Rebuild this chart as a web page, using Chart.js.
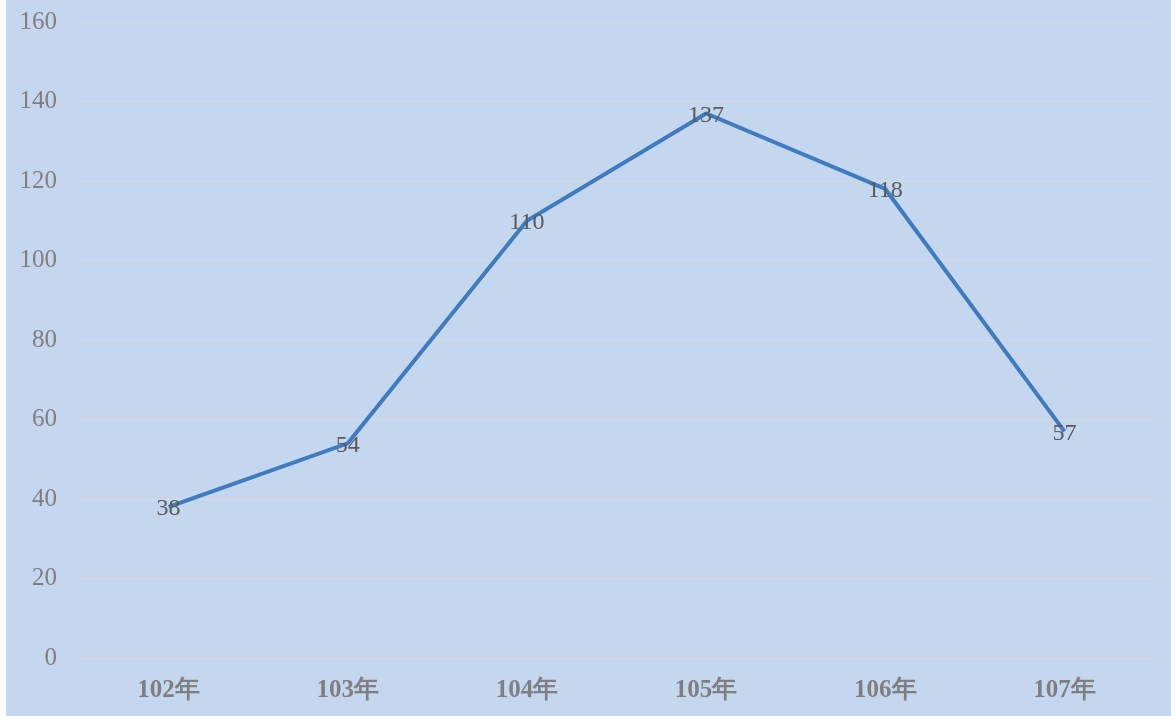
<!DOCTYPE html>
<html>
<head>
<meta charset="utf-8">
<script src="https://cdn.jsdelivr.net/npm/chart.js@4.4.1/dist/chart.umd.min.js"></script>
<style>
  html, body { margin: 0; padding: 0; background: #fff; }
  #wrap { position: absolute; left: 6px; top: 0; width: 1165px; height: 716px; background: #C5D7EF; }
</style>
</head>
<body>
<div id="wrap"><canvas id="myChart"></canvas></div>
<script>
const years = ["102年", "103年", "104年", "105年", "106年", "107年"];
const counts = [38, 54, 110, 137, 118, 57];
const yTicks = [0, 20, 40, 60, 80, 100, 120, 140, 160];

// labels drawn on top of the line, centred on each point
const valueLabels = {
  id: "valueLabels",
  afterDatasetsDraw(chart) {
    const ctx = chart.ctx;
    const meta = chart.getDatasetMeta(0);
    ctx.save();
    ctx.font = "24px 'Liberation Serif', serif";
    ctx.fillStyle = "#595959";
    ctx.textAlign = "center";
    ctx.textBaseline = "middle";
    meta.data.forEach((pt, i) => {
      ctx.fillText(String(counts[i]), pt.x, pt.y + 2);
    });
    ctx.restore();
  }
};

new Chart("myChart", {
  type: "line",
  data: {
    labels: years,
    datasets: [{
      data: counts,
      borderColor: "#3F7BC0",
      borderWidth: 4,
      fill: false,
      pointRadius: 0,
      tension: 0
    }]
  },
  options: {
    responsive: true,
    maintainAspectRatio: false,
    animation: false,
    layout: { padding: { top: 22, right: 17, bottom: 0, left: 0 } },
    plugins: { legend: { display: false }, tooltip: { enabled: false } },
    scales: {
      x: {
        offset: true,
        grid: { display: false },
        border: { display: false },
        afterFit(axis) {
          axis.height = 58;
          axis.paddingLeft = 0;
          axis.paddingRight = 0;
        },
        ticks: {
          color: "#7F7F7F",
          padding: 10,
          font: { family: "'Liberation Serif', serif", size: 25, weight: "bold" }
        }
      },
      y: {
        min: 0,
        max: 160,
        afterBuildTicks(axis) { axis.ticks = yTicks.map(v => ({ value: v })); },
        afterFit(axis) {
          axis.width = 73;
          axis.paddingTop = 0;
          axis.paddingBottom = 0;
        },
        grid: { color: "#D9D9D9", lineWidth: 1, drawTicks: false },
        border: { display: false },
        ticks: {
          color: "#7F7F7F",
          padding: 22,
          font: { family: "'Liberation Serif', serif", size: 25 }
        }
      }
    }
  },
  plugins: [valueLabels]
});
</script>
</body>
</html>
